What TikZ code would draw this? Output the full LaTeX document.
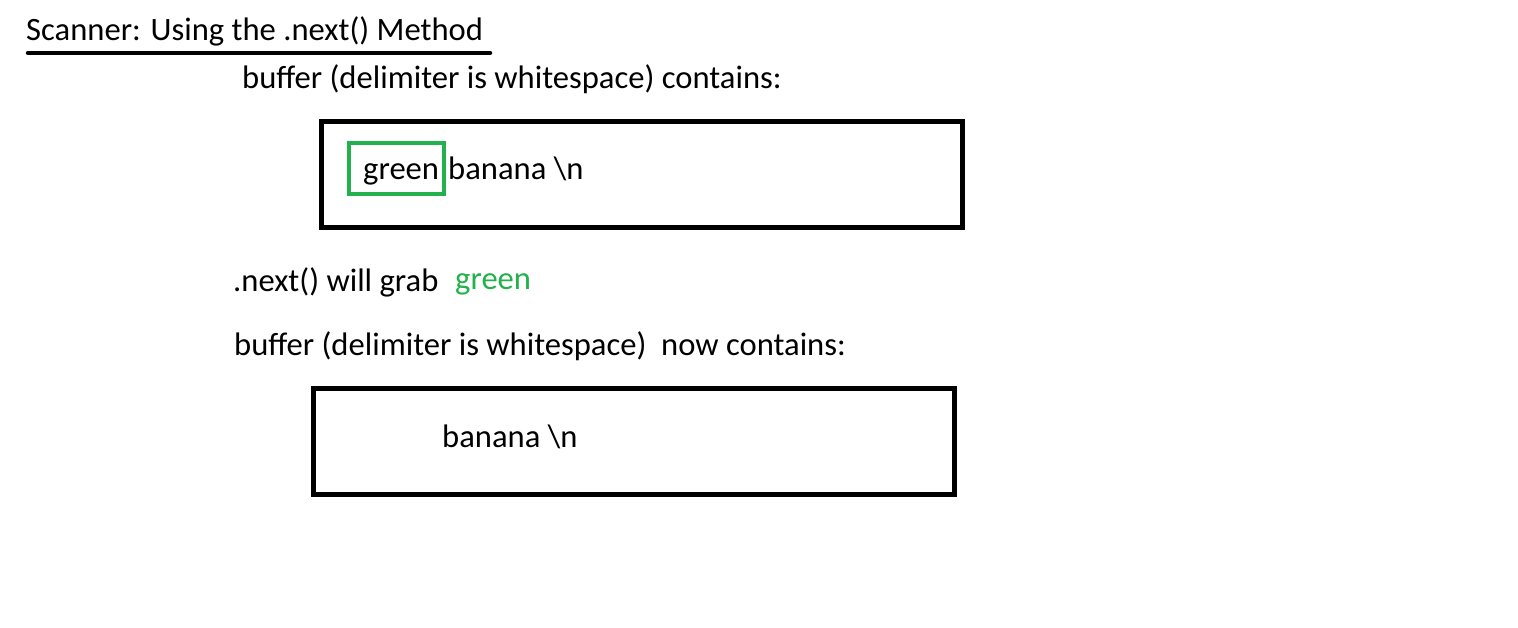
\documentclass[tikz,border=0pt]{standalone}
\usepackage{fontspec}
\setmainfont{Carlito}
\definecolor{pgreen}{RGB}{34,177,76}
\begin{document}
\begin{tikzpicture}[x=1bp,y=-1bp,
  txt/.style={inner sep=0pt,anchor=base west,font=\fontsize{32.6bp}{38bp}\selectfont},
  bufbox/.style={draw=black,line width=5bp,inner sep=0pt,outer sep=0pt,anchor=north west},
  grabbox/.style={draw=pgreen,line width=4bp,inner sep=0pt,outer sep=0pt,anchor=north west}]
\useasboundingbox (0,0) rectangle (1518,628);
\node[txt] (title) at (26,41) {Scanner: Using the .next() Method};
\coordinate (ulA) at (28,53);
\coordinate (ulB) at (490,53);
\draw[line width=4.5bp,line cap=round] (ulA) -- (ulB);
\node[txt] (l1) at (242,89) {buffer (delimiter is whitespace) contains:};
\node[bufbox,minimum width=641bp,minimum height=106bp] (box1) at (321.5,121.5) {};
\node[txt] (g1) at (363,180) {green};
\node[grabbox,minimum width=95bp,minimum height=50bp] (gbox) at (348.5,143.5) {};
\node[txt] (b1) at (448,180) {banana \textbackslash n};
\node[txt] (l2) at (233,291) {.next() will grab};
\node[txt,text=pgreen] (g2) at (455,289) {green};
\node[txt] (l3) at (234,355) {buffer (delimiter is whitespace) \ now contains:};
\node[bufbox,minimum width=640.5bp,minimum height=106bp] (box2) at (313.5,388) {};
\node[txt] (b2) at (442,447) {banana \textbackslash n};
\end{tikzpicture}
\end{document}
